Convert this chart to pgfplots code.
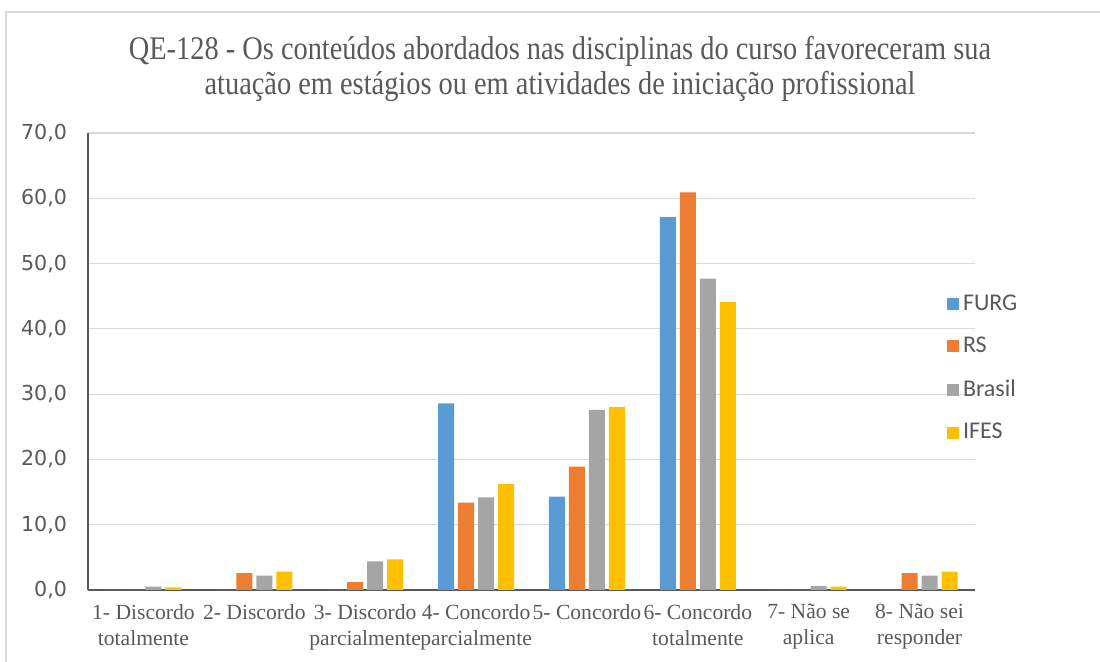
\documentclass[border=0pt]{standalone}
\usepackage{pgfplots}
\pgfplotsset{compat=1.18}
\usepackage{fontspec}
\setmainfont{Liberation Serif}
\newfontfamily\tickfont{DejaVu Sans}
\newfontfamily\legfont{Carlito}
\definecolor{cFURG}{HTML}{5B9BD5}
\definecolor{cRS}{HTML}{ED7D31}
\definecolor{cBR}{HTML}{A5A5A5}
\definecolor{cIF}{HTML}{FFC000}
\definecolor{txt}{HTML}{595959}
\definecolor{grd}{HTML}{D9D9D9}
\begin{document}
\begin{tikzpicture}
\begin{scope}[x=0.5pt,y=0.5pt]
\path[use as bounding box] (0,0) rectangle (1100,662);
\draw[color=grd, line width=1.2pt] (6,0) -- (6,650) -- (1100,650);
\node[text=txt, font=\fontsize{16.5}{19}\selectfont] at (560,611) {\scalebox{0.86}[1]{QE-128 - Os conteúdos abordados nas disciplinas do curso favoreceram sua}};
\node[text=txt, font=\fontsize{16.5}{19}\selectfont] at (560,576) {\scalebox{0.86}[1]{atuação em estágios ou em atividades de iniciação profissional}};
\end{scope}
\begin{axis}[
  at={(44pt,36pt)}, anchor=south west,
  scale only axis, width=443.5pt, height=228.5pt,
  ybar, bar width=8pt, ybar=2pt,
  xmin=-0.5, xmax=7.5, ymin=0, ymax=70,
  ytick={0,10,...,70},
  xtick={0,...,7},
  xticklabels={{1- Discordo\\totalmente},{2- Discordo},{3- Discordo\\parcialmente},{4- Concordo\\parcialmente},{5- Concordo},{6- Concordo\\totalmente},{7- Não se\\aplica},{8- Não sei\\responder}},
  xticklabel style={align=center, text=txt, font=\fontsize{10.8}{13}\selectfont, yshift=-3.5pt},
  yticklabel style={text=txt, font=\tickfont\fontsize{10.3}{12}\selectfont, xshift=-7pt},
  /pgf/number format/.cd, fixed, fixed zerofill, precision=1, use comma, assume math mode=true,
  /pgfplots/.cd,
  major tick length=0pt,
  axis x line*=bottom, axis y line*=left,
  axis line style={draw=txt, line width=0.8pt},
  ymajorgrids, grid style={draw=grd, line width=0.6pt},
  legend style={at={(rel axis cs:0.968,0.656)}, anchor=north west, draw=none, fill=none,
    font=\legfont\fontsize{12}{13.5}\selectfont, text=txt, row sep=8pt, inner sep=0pt,
    /tikz/every even column/.append style={column sep=2pt}},
  legend cell align=left,
  legend image code/.code={\fill[#1] (0pt,-3pt) rectangle (6pt,3pt);},
]
\addplot[fill=cFURG, draw=none] coordinates {(0,0) (1,0) (2,0) (3,28.6) (4,14.3) (5,57.1) (6,0) (7,0)};
\addplot[fill=cRS, draw=none] coordinates {(0,0) (1,2.6) (2,1.2) (3,13.4) (4,18.9) (5,60.9) (6,0) (7,2.6)};
\addplot[fill=cBR, draw=none] coordinates {(0,0.5) (1,2.2) (2,4.4) (3,14.2) (4,27.6) (5,47.7) (6,0.6) (7,2.2)};
\addplot[fill=cIF, draw=none] coordinates {(0,0.4) (1,2.8) (2,4.7) (3,16.2) (4,28.0) (5,44.1) (6,0.5) (7,2.8)};
\legend{FURG,RS,Brasil,IFES}
\end{axis}
\end{tikzpicture}
\end{document}
